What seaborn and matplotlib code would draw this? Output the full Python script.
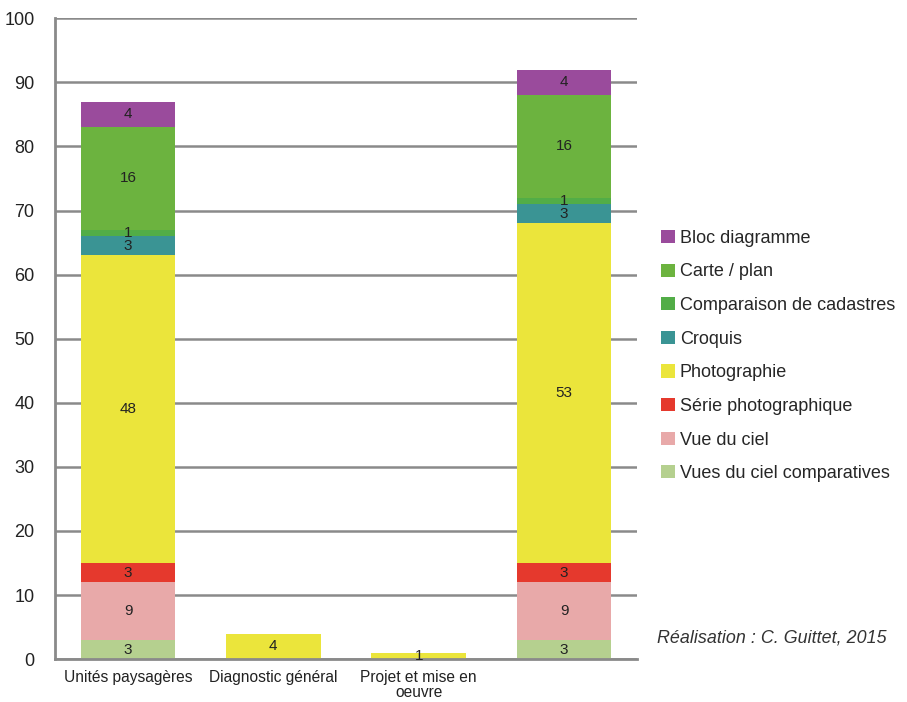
import numpy as np
import pandas as pd
import matplotlib
matplotlib.use("Agg")
import matplotlib.pyplot as plt
import seaborn as sns

# Données
categories = ["Unités paysagères", "Diagnostic général", "Projet et mise en\noeuvre", ""]
types = ["Bloc diagramme", "Carte / plan", "Comparaison de cadastres", "Croquis",
         "Photographie", "Série photographique", "Vue du ciel", "Vues du ciel comparatives"]
bloc_diagramme = [4, 0, 0, 4]
carte_plan = [16, 0, 0, 16]
comparaison_cadastres = [1, 0, 0, 1]
croquis = [3, 0, 0, 3]
photographie = [48, 4, 1, 53]
serie_photo = [3, 0, 0, 3]
vue_du_ciel = [9, 0, 0, 9]
vues_comparatives = [3, 0, 0, 3]

couleurs = ["#9a4b9c", "#6cb33f", "#52ad47", "#3a9494",
            "#ebe53b", "#e5392d", "#e8a9a9", "#b5d08f"]

valeurs = [bloc_diagramme, carte_plan, comparaison_cadastres, croquis,
           photographie, serie_photo, vue_du_ciel, vues_comparatives]

lignes = []
for t, vals in zip(types, valeurs):
    for i, v in enumerate(vals):
        lignes.append({"categorie": i, "type": t, "n": v})
df = pd.DataFrame(lignes)

sns.set_theme(style="white")
plt.rcParams['font.family'] = ['Liberation Sans', 'DejaVu Sans']

fig, ax = plt.subplots(figsize=(9.07, 7.02), dpi=100)
fig.subplots_adjust(left=0.061, right=0.702, top=0.974, bottom=0.061)

sns.histplot(data=df, x="categorie", weights="n", hue="type", hue_order=types,
             multiple="stack", discrete=True, shrink=0.65, alpha=1, linewidth=0,
             palette=dict(zip(types, couleurs)), ax=ax)

# Étiquettes des segments (le premier niveau est en haut de la pile)
for i in range(len(categories)):
    base = 0
    for vals in valeurs[::-1]:
        v = vals[i]
        if v > 0:
            ax.text(i, base + v / 2, str(v), ha="center", va="center",
                    fontsize=11, color="#222222")
        base += v

ax.set_xlim(-0.5, 3.5)
ax.set_ylim(0, 100)
ax.set_yticks(range(0, 101, 10))
ax.set_xticks(range(len(categories)))
ax.set_xticklabels(categories, fontsize=11.2, color="#222222", linespacing=0.95)
ax.tick_params(axis="y", labelsize=13, colors="#222222", pad=9)
ax.tick_params(axis="x", pad=2)
ax.set_xlabel("")
ax.set_ylabel("")
ax.yaxis.grid(True, color="#8a8a8a", linewidth=1.8)
ax.set_axisbelow(True)
for s in ["top", "right"]:
    ax.spines[s].set_visible(False)
for s in ["left", "bottom"]:
    ax.spines[s].set_color("#8a8a8a")
    ax.spines[s].set_linewidth(2)

sns.move_legend(ax, loc="center left", bbox_to_anchor=(1.02, 0.473), frameon=False,
                title=None, fontsize=13, labelspacing=0.92, handlelength=0.75,
                handleheight=0.75, handletextpad=0.3, borderpad=0.2)

fig.text(0.724, 0.091, "Réalisation : C. Guittet, 2015", fontsize=12.9,
         style="italic", color="#333333", ha="left", va="center")

plt.savefig("out.png", dpi=100)
plt.close()
